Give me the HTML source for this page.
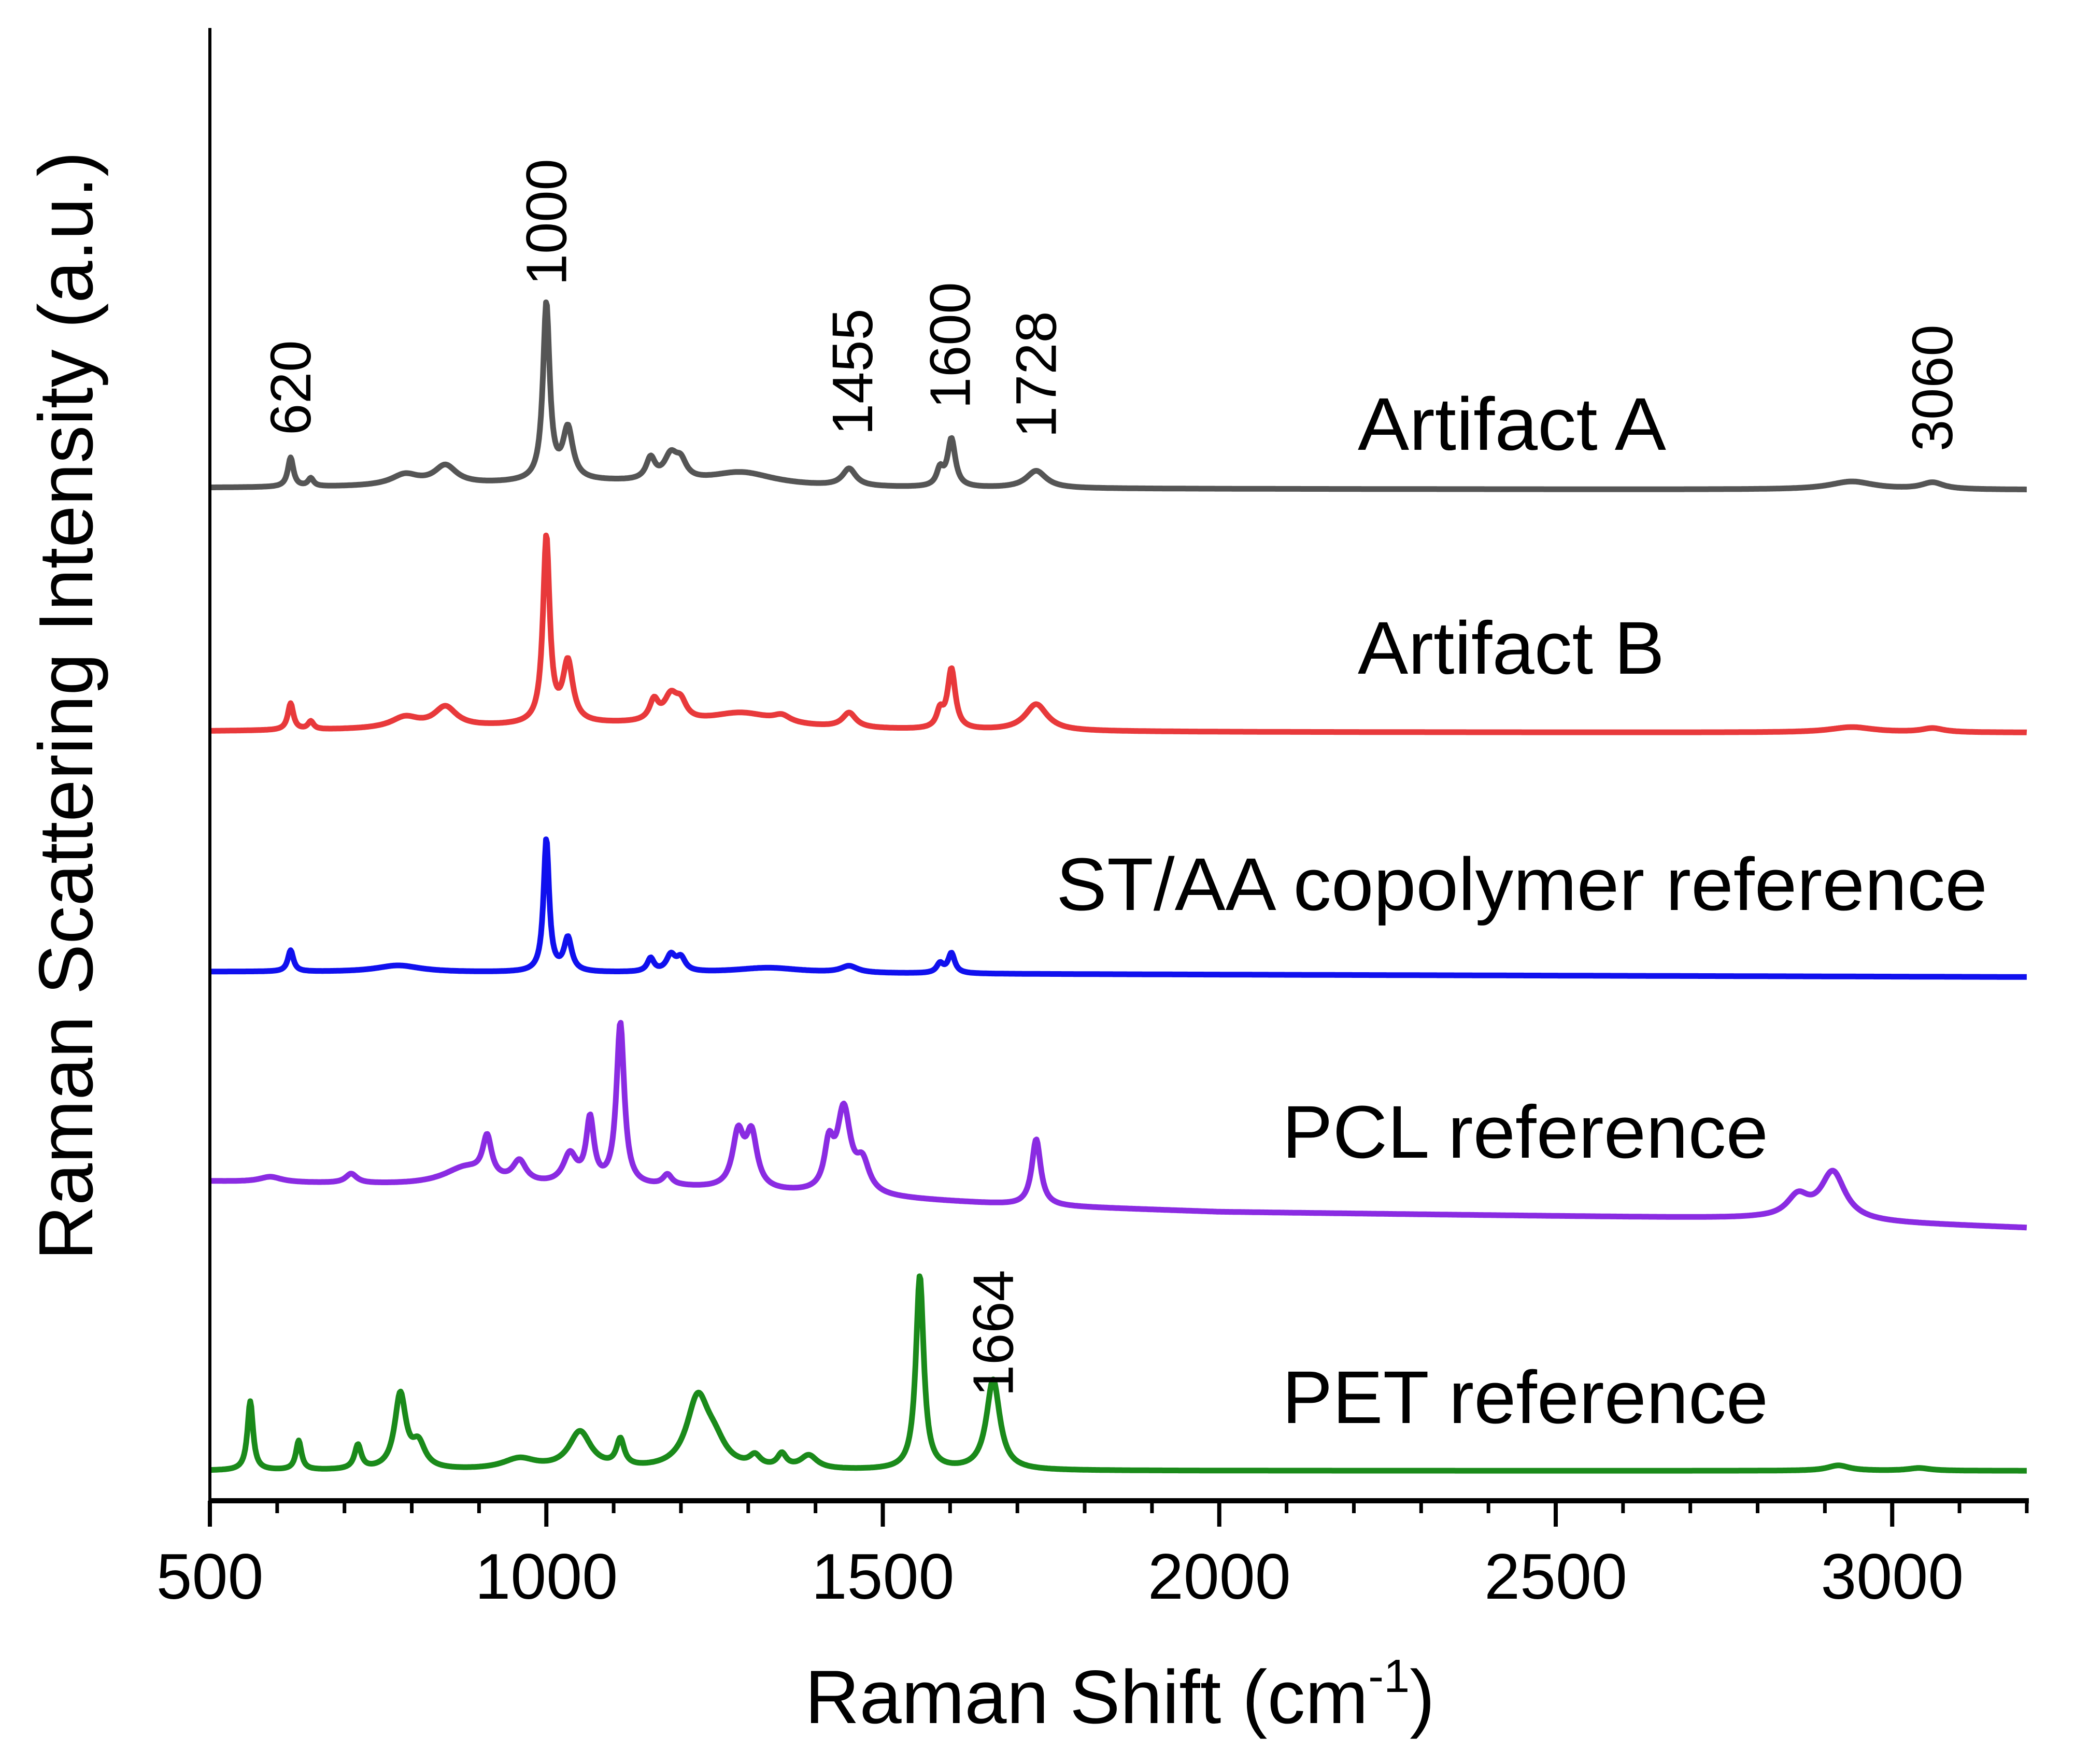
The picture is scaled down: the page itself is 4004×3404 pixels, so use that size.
<!DOCTYPE html>
<html><head><meta charset="utf-8"><style>
html,body{margin:0;padding:0;background:#fff;}
svg{display:block;font-family:"Liberation Sans",Arial,sans-serif;}
</style></head><body>
<svg id="chart" width="4004" height="3404" viewBox="0 0 4004 3404" xmlns="http://www.w3.org/2000/svg">
<rect width="4004" height="3404" fill="#fff"/>
<g id="series"></g>
<g id="axes"></g>
<g id="labels"></g>
</svg>
<script>
// ---- data ----
const xTicksMajor = [500,1000,1500,2000,2500,3000];
const xTickLabels = ["500","1000","1500","2000","2500","3000"];
const seriesNames = ["Artifact A","Artifact B","ST/AA copolymer reference","PCL reference","PET reference"];
const seriesColors = ["#555555","#e8393b","#1010ee","#8a2be2","#1a8a1a"];
// baselines: [wavenumber, intensity-offset]
const baseA = [[500,368],[3200,369]];
const baseB = [[500,552],[3200,552]];
const baseST = [[500,732],[3200,736]];
const basePCL = [[500,890],[800,893],[1200,895],[1480,902],[1700,908],[2000,913],[2800,918],[3200,925]];
const basePET = [[500,1108],[3200,1108]];
// peaks: [position, height, half-width]
const peaksA = [[620,22,5],[650,6,5],[790,8,25],[850,14,20],[1000,133,6],[1032,38,9],[1155,16,8],[1185,18,12],[1200,12,10],[1290,10,60],[1450,13,12],[1585,12,6],[1602,36,7],[1728,13,18],[2940,6,40],[3060,5,20],[1050,5,200]];
const peaksB = [[620,20,5],[650,6,5],[790,8,25],[850,15,20],[1000,140,6],[1032,45,9],[1160,15,8],[1185,18,12],[1200,12,10],[1290,10,60],[1350,5,15],[1450,11,12],[1585,12,6],[1602,45,7],[1728,20,20],[2940,4,40],[3060,3,20],[1100,6,300]];
const peaksST = [[620,16,5],[780,5,40],[1000,100,5],[1032,25,7],[1155,10,6],[1185,12,8],[1200,10,8],[1330,4,60],[1450,5,15],[1585,7,6],[1602,15,6]];
const peaksPCL = [[590,4,20],[710,7,10],[880,13,40],[912,30,8],[960,16,12],[1035,22,12],[1065,48,7],[1110,122,7],[1180,8,8],[1285,40,10],[1305,40,10],[1420,32,8],[1442,62,12],[1470,22,12],[1728,50,8],[2860,16,20],[2912,36,22]];
const peaksPET = [[560,52,5],[632,22,5],[720,18,6],[783,56,10],[810,18,12],[960,8,30],[1050,28,20],[1110,20,7],[1225,52,20],[1250,15,20],[1310,8,10],[1350,10,8],[1390,10,15],[1555,146,7],[1664,68,12],[2920,4,20],[3040,2,20]];
const peakLabels = ["620","1000","1455","1600","1728","3060","1664"];
const peakLabelX = [620,1000,1455,1600,1728,3060,1664];
const peakLabelBottom = [840,551,840,789,845,871,2695];

// ---- scales ----
const SVGNS="http://www.w3.org/2000/svg";
const X0=405, PXPER=1.2985, SY=2.5616;
function xs(v){return X0+(v-500)*PXPER;}
function ys(u){return u*SY;}
function interpBase(b,x){for(let i=0;i<b.length-1;i++){if(x>=b[i][0]&&x<=b[i+1][0]){const t=(x-b[i][0])/(b[i+1][0]-b[i][0]);return b[i][1]+t*(b[i+1][1]-b[i][1]);}}return b[b.length-1][1];}
function spectrum(base,peaks,x){let s=0;for(const p of peaks){const d=(x-p[0])/p[2];s+=p[1]/(1+d*d);}return interpBase(base,x)-s;}
const bases=[baseA,baseB,baseST,basePCL,basePET];
const peakSets=[peaksA,peaksB,peaksST,peaksPCL,peaksPET];
const gS=document.getElementById('series');
for(let k=0;k<5;k++){
  let d="";
  for(let x=500;x<=3200;x+=1.5){d+=(x===500?"M":"L")+xs(x).toFixed(1)+","+ys(spectrum(bases[k],peakSets[k],x)).toFixed(1);}
  const p=document.createElementNS(SVGNS,'path');
  p.setAttribute('d',d);p.setAttribute('fill','none');p.setAttribute('stroke',seriesColors[k]);
  p.setAttribute('stroke-width','11');p.setAttribute('stroke-linejoin','round');
  
  
  gS.appendChild(p);
}
// ---- axes ----
const gA=document.getElementById('axes');
function line(x1,y1,x2,y2,w,name){const l=document.createElementNS(SVGNS,'line');l.setAttribute('x1',x1);l.setAttribute('y1',y1);l.setAttribute('x2',x2);l.setAttribute('y2',y2);l.setAttribute('stroke','#000');l.setAttribute('stroke-width',w);
  
  
  gA.appendChild(l);}
const AXY=2896;
line(405,54,405,AXY+4,6,'y-axis-line');
line(402,AXY,xs(3200)+4,AXY,10,'x-axis-line');
for(let v=500;v<=3200;v+=100){const major=(v%500===0);line(xs(v),AXY,xs(v),AXY+(major?50:24),major?8:7,major?'x-major-tick':'x-minor-tick');}
xTicksMajor.forEach((v,i)=>{const t=document.createElementNS(SVGNS,'text');t.setAttribute('x',xs(v));t.setAttribute('y',3085);t.setAttribute('text-anchor','middle');t.setAttribute('font-size','124');t.textContent=xTickLabels[i];
  
  
  gA.appendChild(t);});
// ---- labels ----
const gL=document.getElementById('labels');
peakLabels.forEach((s,i)=>{const t=document.createElementNS(SVGNS,'text');const bx=xs(peakLabelX[i])+38,by=peakLabelBottom[i];t.setAttribute('transform','translate('+bx+','+by+') rotate(-90)');t.setAttribute('font-size','110');t.textContent=s;
  
  
  gL.appendChild(t);});
</script>
<script>
(function(){
const svg=document.getElementById('labels');
const NS="http://www.w3.org/2000/svg";
function txt(s,x,y,size,len,name,rot){const t=document.createElementNS(NS,'text');t.setAttribute('x',x);t.setAttribute('y',y);t.setAttribute('font-size',size);if(len){t.setAttribute('textLength',len);t.setAttribute('lengthAdjust','spacingAndGlyphs');}if(rot)t.setAttribute('transform',rot);t.textContent=s;
  
  
  svg.appendChild(t);return t;}
txt("Artifact A",2620,868,144,595,'series-label-artifact-a');
txt("Artifact B",2620,1300,144,592,'series-label-artifact-b');
txt("ST/AA copolymer reference",2038,1756,144,1797,'series-label-st-aa');
txt("PCL reference",2474,2234,144,938,'series-label-pcl');
txt("PET reference",2474,2746,144,938,'series-label-pet');
const xt=document.createElementNS(NS,'text');xt.setAttribute('x',1553);xt.setAttribute('y',3325);xt.setAttribute('font-size',146);
xt.innerHTML='Raman Shift (cm<tspan font-size="90" dy="-60">-1</tspan><tspan dy="60">)</tspan>';


svg.appendChild(xt);
txt("Raman Scattering Intensity (a.u.)",0,0,148,2140,'y-axis-title','translate(178,2432) rotate(-90)');
})();
</script>
</body></html>
